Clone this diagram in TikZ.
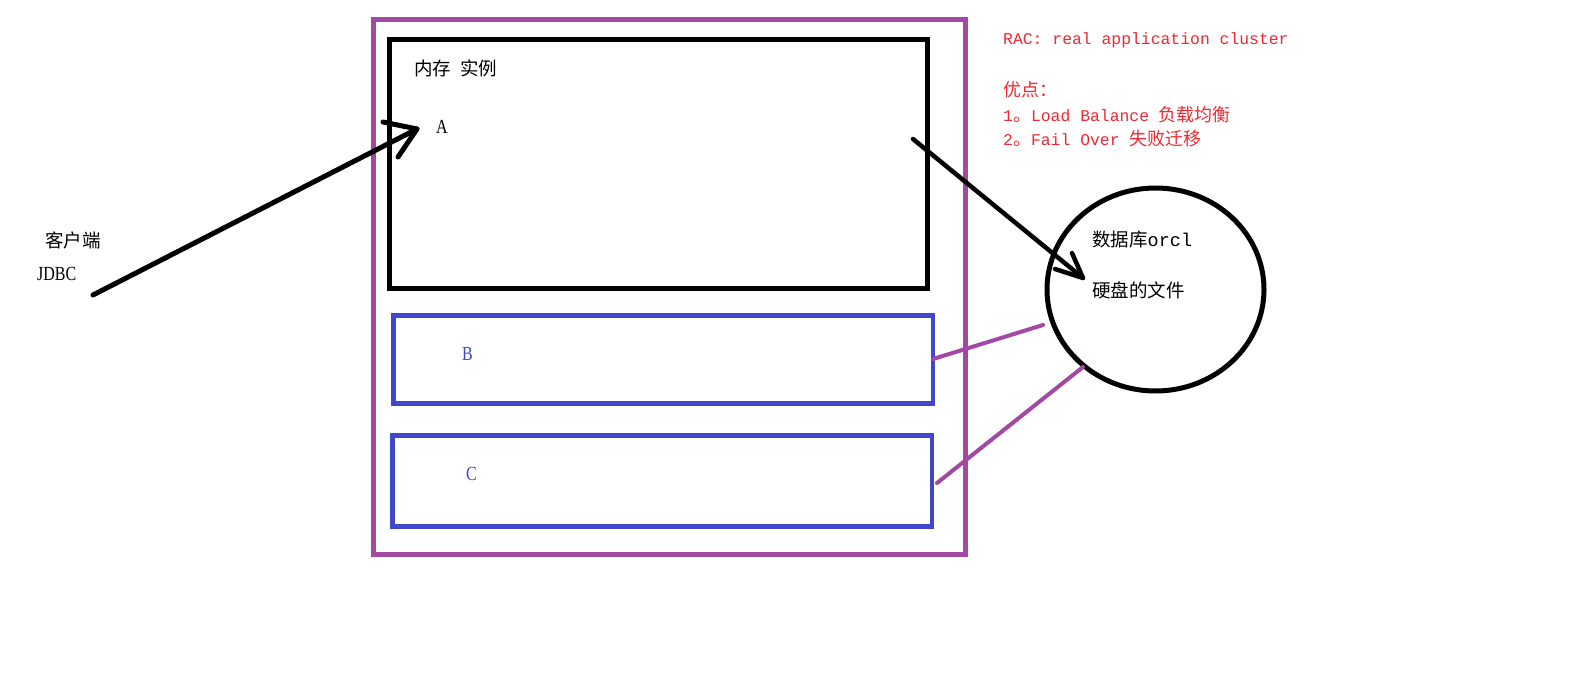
\documentclass[tikz,border=0pt]{standalone}
\usepackage{fontspec}
\setmainfont{Liberation Serif}
\newfontfamily\cjk{Noto Sans CJK SC}
\newfontfamily\monofnt{Liberation Mono}
\definecolor{ppurple}{RGB}{163,73,164}
\definecolor{pblue}{RGB}{63,72,204}
\definecolor{pred}{RGB}{240,40,50}
\newcommand{\rcjk}[1]{{\fontsize{18}{18}\selectfont\cjk #1}}
\begin{document}
\begin{tikzpicture}[x=1pt,y=-1pt,
  lbl/.style={inner sep=0pt,anchor=west,font=\fontsize{18.5}{20}\selectfont},
  rtxt/.style={inner sep=0pt,anchor=west,text=pred,font=\fontsize{16.4}{18}\selectfont\monofnt},
  arr/.style={line width=5pt,line cap=round,line join=round}]
\useasboundingbox[fill=white] (0,0) rectangle (1582,674);
% boxes
\draw[ppurple,line width=5pt] (373.5,19.5) rectangle (965.5,554.5);
\draw[black,line width=4.5pt] (389.5,39.5) rectangle (927.5,288.5);
\draw[pblue,line width=4.5pt] (393.5,315.5) rectangle (933,403.5);
\draw[pblue,line width=4.5pt] (392.5,435.5) rectangle (932,526.5);
\draw[black,line width=5pt] (1155.5,289.5) ellipse [x radius=108.5, y radius=101.5];
% texts
\node[lbl] (client) at (45,240) {\cjk 客户端};
\node[lbl] (jdbc) at (37,274) {\scalebox{1}[1.25]{\fontsize{16}{18}\selectfont JDBC}};
\node[lbl] (mem) at (414,68) {\cjk 内存\hspace{9pt}实例};
\node[lbl] (A) at (436,127) {\scalebox{1}[1.25]{\fontsize{16}{18}\selectfont A}};
\node[lbl,text=pblue] (B) at (462,354) {\scalebox{1}[1.25]{\fontsize{16}{18}\selectfont B}};
\node[lbl,text=pblue] (C) at (466,474) {\scalebox{1}[1.25]{\fontsize{16}{18}\selectfont C}};
\node[lbl] (db) at (1092,240) {\cjk 数据库{\monofnt orcl}};
\node[lbl] (disk) at (1092,290) {\cjk 硬盘的文件};
\node[rtxt] (rac) at (1003,40) {RAC: real application cluster};
\node[rtxt] (adv) at (1003,90) {\rcjk{优点：}};
\node[rtxt] (p1) at (1003,115) {1\rcjk{。}Load Balance \rcjk{负载均衡}};
\node[rtxt] (p2) at (1003,139) {2\rcjk{。}Fail Over \rcjk{失败迁移}};
% arrows
\coordinate (s1) at (93,295);
\coordinate (t1) at (417,129);
\coordinate (b1a) at (383,122);
\coordinate (b1b) at (398,157);
\draw[arr] (s1) -- (t1);
\draw[arr] (b1a) -- (t1) -- (b1b);
\coordinate (s2) at (913,139);
\coordinate (t2) at (1083,278);
\coordinate (b2a) at (1055,269);
\coordinate (b2b) at (1072,253);
\draw[arr,line width=4.5pt] (s2) -- (t2);
\draw[arr,line width=4.5pt] (b2a) -- (t2) -- (b2b);
% purple links
\coordinate (lb1) at (933,359);
\coordinate (lb2) at (1043,325);
\coordinate (lc1) at (937,483);
\coordinate (lc2) at (1083,367);
\draw[ppurple,line width=4pt,line cap=round] (lb1) -- (lb2);
\draw[ppurple,line width=4pt,line cap=round] (lc1) -- (lc2);
\end{tikzpicture}
\end{document}
